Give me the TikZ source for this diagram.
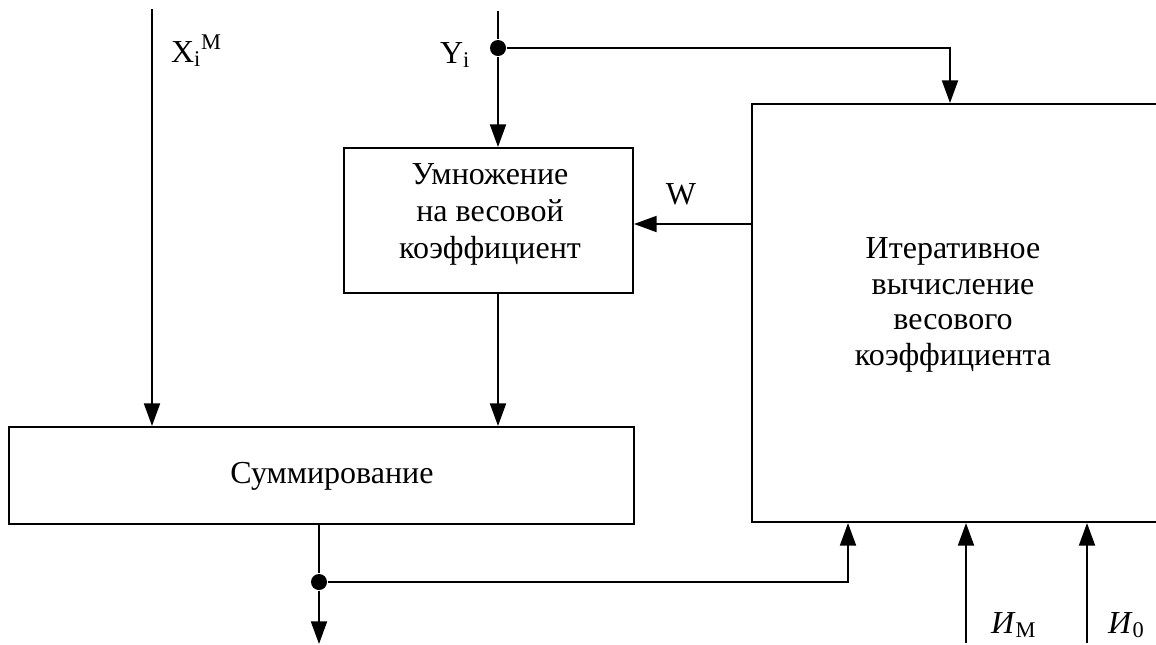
\documentclass[tikz,border=0pt]{standalone}
\usepackage{fontspec}
\setmainfont{Liberation Serif}
\usetikzlibrary{arrows.meta,calc}
\begin{document}
\begin{tikzpicture}[x=0.75pt,y=-0.75pt,
  line width=1.5pt,
  every node/.style={font=\fontsize{24}{26.8}\selectfont},
  block/.style={draw, rectangle, inner sep=0pt},
  txt/.style={align=center, inner sep=0pt},
  arr/.style={-{Triangle[length=17pt,width=12pt]}},
  dot/.style={circle, fill, inner sep=0pt, minimum size=12pt},
]
\useasboundingbox (0,0) rectangle (1156,644);
\clip (0,0) rectangle (1156,644);

% blocks
\node[block, minimum width=216.75pt, minimum height=108.75pt] (mult) at (488.5,220.5) {};
\node[block, minimum width=468.75pt, minimum height=72.75pt] (sum) at (321.5,475.5) {};
\node[block, minimum width=306pt, minimum height=313.5pt] (big) at (956,313) {};

% block captions
\node[txt, font=\fontsize{24}{27.8}\selectfont] (multtext) at (490,214) {Умножение\\на весовой\\коэффициент};
\node[txt] (sumtext) at (332,476) {Суммирование};
\node[txt] (bigtext) at (953,305) {Итеративное\\вычисление\\весового\\коэффициента};

% signal labels
\node[anchor=base west, inner sep=0pt] (lx) at (170,62) {X\textsubscript{i}\textsuperscript{M}};
\node[anchor=base west, inner sep=0pt] (ly) at (439,63) {Y\textsubscript{i}};
\node[inner sep=0pt] (lw) at (681,194) {W};
\node[anchor=base west, inner sep=0pt] (lim) at (990,633) {\textit{И}\textsubscript{M}};
\node[anchor=base west, inner sep=0pt] (li0) at (1107,633) {\textit{И}\textsubscript{0}};

% junction points and free ends
\node[dot] (ydot) at (498,48) {};
\node[dot] (sdot) at (319,582) {};
\coordinate (xin) at (152,9);
\coordinate (yin) at (498,11);
\coordinate (out) at (319,644);
\coordinate (bigtop) at (950,0);
\coordinate (fb) at (848,0);
\coordinate (wy) at (0,224);
\coordinate (im) at (966,643);
\coordinate (i0) at (1087,643);

% connectors
\draw[arr] (xin) -- (xin |- sum.north);
\draw (yin) -- (ydot);
\draw[arr] (ydot) -- (ydot |- mult.north);
\draw[arr] (ydot) -| (bigtop |- big.north);
\draw[arr] (mult.south -| ydot) -- (ydot |- sum.north);
\draw[arr] (big.west |- wy) -- (mult.east |- wy);
\draw (sdot |- sum.south) -- (sdot);
\draw[arr] (sdot) -- (out);
\draw[arr] (sdot) -| (fb |- big.south);
\draw[arr] (im) -- (im |- big.south);
\draw[arr] (i0) -- (i0 |- big.south);
\end{tikzpicture}
\end{document}
